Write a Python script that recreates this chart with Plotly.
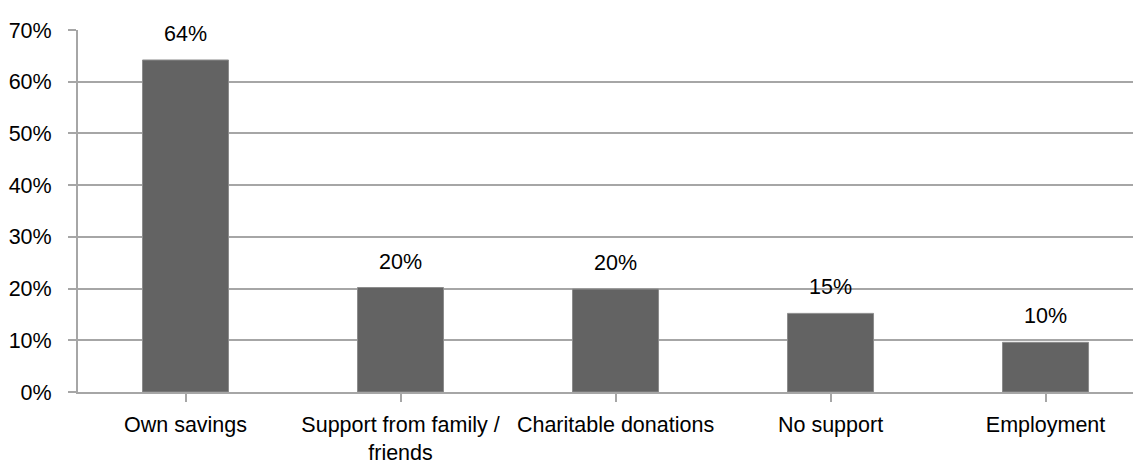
import plotly.graph_objects as go

categories = ["Own savings", "Support from family /<br>friends", "Charitable donations", "No support", "Employment"]
values = [64.2, 20.2, 19.9, 15.2, 9.6]
y_ticks = [0, 10, 20, 30, 40, 50, 60, 70]
y_tick_labels = [f"{t}%" for t in y_ticks]
value_labels = [f"{round(v)}%" for v in values]

FONT = "Liberation Sans, Arial, sans-serif"
FS = 21.5
GRID = "#a6a6a6"

fig = go.Figure()
fig.add_trace(go.Bar(
    x=list(range(len(categories))),
    y=values,
    width=0.4,
    marker=dict(color="#636363", line=dict(color="#8c8c8c", width=1)),
    hoverinfo="skip",
))

for i, (v, t) in enumerate(zip(values, value_labels)):
    fig.add_annotation(x=i, y=v, text=t, showarrow=False, yanchor="middle",
                       yshift=26, font=dict(family=FONT, size=FS, color="#000000"))

fig.update_layout(
    width=1133, height=455,
    margin=dict(l=70, r=0, t=22, b=71),
    paper_bgcolor="white", plot_bgcolor="white",
    showlegend=False,
    font=dict(family=FONT, size=FS, color="#000000"),
    bargap=0.6,
)
fig.update_xaxes(
    range=[-0.5, 4.444],
    tickmode="array",
    tickvals=list(range(len(categories))),
    ticktext=categories,
    tickson="boundaries",
    tickangle=0,
    automargin=False,
    ticks="outside", ticklen=8, tickcolor=GRID, tickwidth=2,
    showline=True, linecolor=GRID, linewidth=2,
    showgrid=False, zeroline=False,
    ticklabelstandoff=4,
    tickfont=dict(family=FONT, size=FS),
)
fig.update_yaxes(
    range=[0, 70],
    tickmode="array",
    tickvals=y_ticks,
    ticktext=y_tick_labels,
    automargin=False,
    ticks="outside", ticklen=8, tickcolor=GRID, tickwidth=2,
    showline=True, linecolor=GRID, linewidth=2,
    showgrid=True, gridcolor=GRID, gridwidth=2,
    zeroline=False,
    ticklabelstandoff=12,
    tickfont=dict(family=FONT, size=FS),
)

fig.write_html("out.html")
